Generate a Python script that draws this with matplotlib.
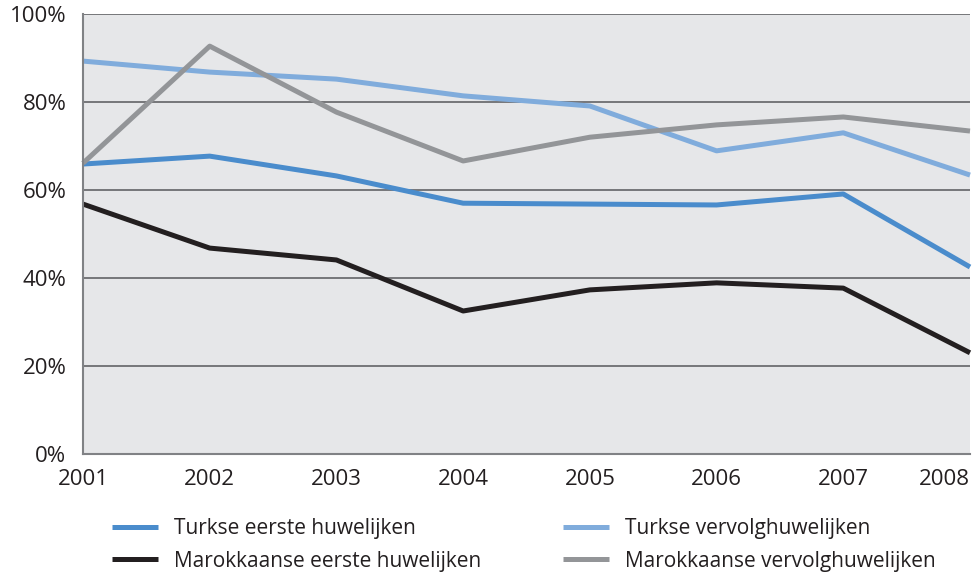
import matplotlib.pyplot as plt
from matplotlib.ticker import FuncFormatter

plt.rcParams['font.family'] = ['Open Sans', 'DejaVu Sans']

years = [2001, 2002, 2003, 2004, 2005, 2006, 2007, 2008]
turkse_eerste = [65.9, 67.7, 63.2, 57.0, 56.8, 56.6, 59.1, 42.5]
turkse_vervolg = [89.3, 86.8, 85.2, 81.4, 79.1, 68.9, 73.0, 63.4]
marok_eerste = [56.8, 46.8, 44.1, 32.5, 37.3, 38.9, 37.7, 23.0]
marok_vervolg = [66.1, 92.7, 77.7, 66.6, 72.0, 74.8, 76.6, 73.4]

fig = plt.figure(figsize=(9.8, 5.72), dpi=100)
ax = fig.add_axes([0.0847, 0.2063, 0.9051, 0.7692])
ax.set_facecolor('#e6e7e9')

lw = 3.6
l1, = ax.plot(years, turkse_eerste, color='#4a8ccc', lw=lw, clip_on=False,
              solid_capstyle='butt', label='Turkse eerste huwelijken')
l2, = ax.plot(years, turkse_vervolg, color='#80acdc', lw=lw, clip_on=False,
              solid_capstyle='butt', label='Turkse vervolghuwelijken')
l3, = ax.plot(years, marok_eerste, color='#231f20', lw=lw, clip_on=False,
              solid_capstyle='butt', label='Marokkaanse eerste huwelijken')
l4, = ax.plot(years, marok_vervolg, color='#939598', lw=lw, clip_on=False,
              solid_capstyle='butt', label='Marokkaanse vervolghuwelijken')

ax.set_xlim(2001, 2008)
ax.set_ylim(0, 100)
ax.set_yticks(range(0, 101, 20))
ax.yaxis.set_major_formatter(FuncFormatter(lambda v, p: f'{int(v)}%'))
ax.set_xticks(years)
ax.grid(axis='y', color='#6d6e71', lw=1.3)
ax.set_axisbelow(True)
for s in ['top', 'right']:
    ax.spines[s].set_visible(False)
for s in ['left', 'bottom']:
    ax.spines[s].set_color('#808285')
    ax.spines[s].set_linewidth(1.5)
ax.tick_params(length=0, labelsize=16, colors='#231f20')
ax.tick_params(axis='y', pad=12)
ax.tick_params(axis='x', pad=11)
ax.get_xticklabels()[-1].set_ha('right')

fig.legend([l1, l3, l2, l4], [h.get_label() for h in [l1, l3, l2, l4]],
           loc='upper left', bbox_to_anchor=(0.095, 0.127), ncol=2,
           frameon=False, fontsize=15, handlelength=2.2, handletextpad=0.8,
           columnspacing=3.9, labelspacing=0.56, labelcolor='#231f20')

fig.savefig('out.png', dpi=100)
